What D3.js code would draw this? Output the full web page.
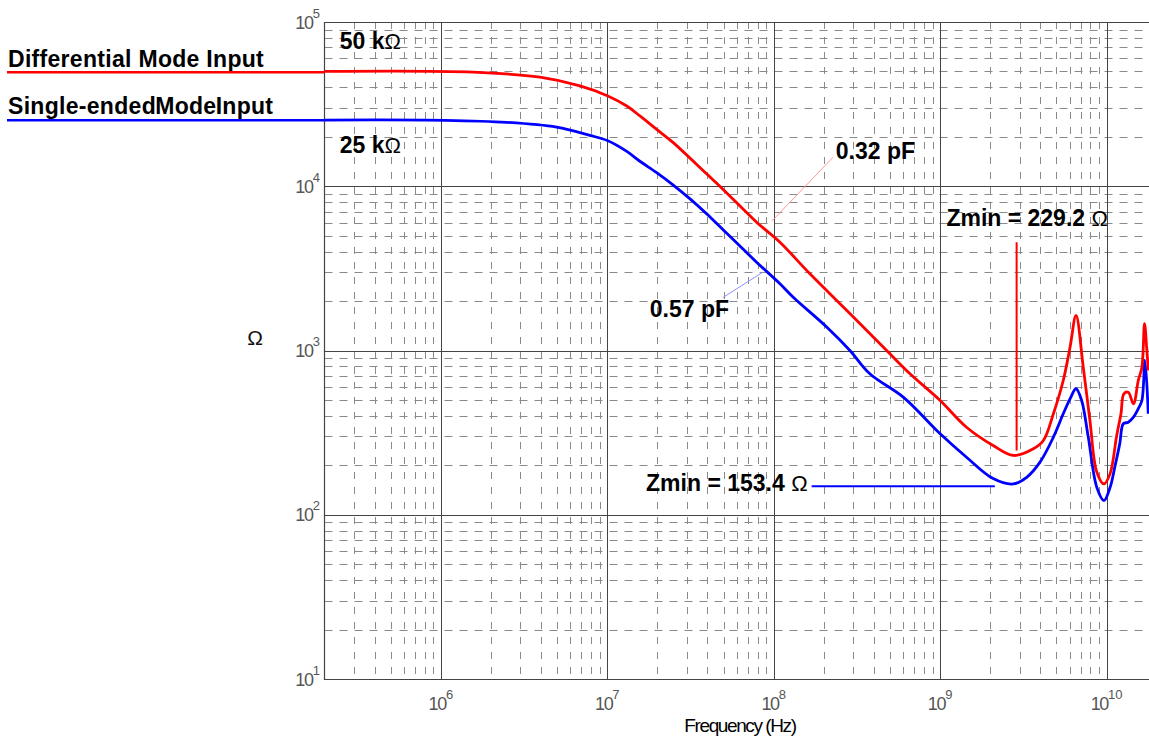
<!DOCTYPE html>
<html>
<head>
<meta charset="utf-8">
<script src="https://cdn.jsdelivr.net/npm/d3@7"></script>
<style>
  html, body { margin: 0; padding: 0; background: #fff; }
  svg { display: block; }
</style>
</head>
<body>
<div id="chart"></div>
<script>
// ---- data ----
const freqDiff = [2e5, 1.56e6, 3.94e6, 6.85e6, 1.0e7, 1.31e7, 1.57e7, 1.98e7, 2.48e7, 3.95e7, 4.95e7, 7.89e7, 1.09e8, 1.65e8, 3.01e8, 4.77e8, 6.59e8, 1.0e9, 1.44e9, 2.08e9, 2.75e9, 3.63e9, 4.17e9, 4.79e9, 5.49e9, 6.03e9, 6.55e9, 7.24e9, 7.94e9, 8.73e9, 9.64e9, 1.05e10, 1.15e10, 1.22e10, 1.27e10, 1.35e10, 1.45e10, 1.55e10, 1.63e10, 1.69e10, 1.74e10, 1.78e10];
const zDiff    = [50000, 49500, 46100, 40800, 35600, 30800, 26800, 22200, 18500, 11900, 9600, 6040, 4560, 2930, 1600, 1000, 721, 496, 341, 264, 229.6, 252, 283, 412, 657, 1047, 1633, 791, 375, 182, 154, 178, 304, 412, 545, 557, 474, 657, 791, 1455, 1047, 756];

const freqSingle = [2e5, 1.06e6, 2.48e6, 4.96e6, 7.86e6, 1.0e7, 1.31e7, 1.57e7, 1.98e7, 2.48e7, 3.13e7, 3.95e7, 4.95e7, 7.89e7, 1.09e8, 1.31e8, 2.08e8, 2.87e8, 3.78e8, 6.0e8, 1.0e9, 1.44e9, 2.08e9, 2.75e9, 3.31e9, 3.98e9, 4.79e9, 5.49e9, 6.03e9, 6.55e9, 7.08e9, 7.76e9, 8.73e9, 9.64e9, 1.05e10, 1.12e10, 1.20e10, 1.26e10, 1.35e10, 1.45e10, 1.55e10, 1.63e10, 1.70e10, 1.78e10];
const zSingle    = [25300, 25200, 24500, 22900, 20400, 19000, 16300, 14200, 12100, 10200, 8400, 6800, 5450, 3450, 2550, 2110, 1390, 1000, 721, 520, 311, 224, 166, 154, 169, 209, 297, 412, 508, 585, 496, 297, 147, 122, 147, 195, 271, 358, 366, 393, 442, 496, 869, 412];

const xTickExponents = [6, 7, 8, 9, 10];
const yTickExponents = [1, 2, 3, 4, 5];
const seriesNames = ["Differential Mode Input", "Single-ended Mode Input"];
const xLabel = "Frequency (Hz)";
const yLabel = "\u03A9";

// annotation texts anchored in data space
const annotationTexts = [
  { main: "50 k", omega: "\u03A9", f: 2.47e5, z: 68900 },
  { main: "25 k", omega: "\u03A9", f: 2.47e5, z: 15900 },
  { main: "0.32 pF", omega: "", f: 2.36e8, z: 14700 },
  { main: "0.57 pF", omega: "", f: 1.80e7, z: 1610 },
  { main: "Zmin = 229.2 ", omega: "\u03A9", f: 1.09e9, z: 5690 },
  { main: "Zmin = 153.4 ", omega: "\u03A9", f: 1.71e7, z: 139 }
];
// annotation leader lines [f1, z1, f2, z2]
const leaderDiffCap   = [9.72e7, 6120, 2.27e8, 15000];
const leaderSingleCap = [4.95e7, 2100, 8.61e7, 3000];
const zminDiffLine    = [2.88e9, 4560, 2.88e9, 246];
const zminSingleLine  = [1.69e8, 149, 2.13e9, 149];

// ---- layout ----
const W = 1149, H = 744;
const plot = { left: 324.5, top: 22, bottom: 679, right: 1156.7 };

const svg = d3.select("#chart").append("svg")
  .attr("width", W).attr("height", H)
  .style("font-family", "Arial, 'Liberation Sans', Helvetica, sans-serif");

svg.append("rect").attr("width", W).attr("height", H).attr("fill", "#fff");

const x = d3.scaleLog().domain([2e5, 2e10]).range([plot.left, plot.right]);
const y = d3.scaleLog().domain([10, 1e5]).range([plot.bottom, plot.top]);

svg.append("defs").append("clipPath").attr("id", "clip")
  .append("rect").attr("x", plot.left).attr("y", plot.top)
  .attr("width", plot.right - plot.left).attr("height", plot.bottom - plot.top);

// ---- grid ----
const grid = svg.append("g");
const minorX = [], majorX = [];
for (let e = 5; e <= 10; e++) {
  for (let m = 1; m <= 9; m++) {
    const v = m * Math.pow(10, e);
    if (v < 2e5 || v > 2e10) continue;
    if (m === 1) majorX.push(v); else if (v > 2e5) minorX.push(v);
  }
}
const minorY = [], majorY = [];
for (let e = 1; e <= 4; e++) {
  for (let m = 2; m <= 9; m++) minorY.push(m * Math.pow(10, e));
}
yTickExponents.forEach(e => majorY.push(Math.pow(10, e)));

grid.selectAll(".mx").data(minorX).join("line")
  .attr("x1", d => Math.round(x(d)) + 0.5).attr("x2", d => Math.round(x(d)) + 0.5)
  .attr("y1", plot.top).attr("y2", plot.bottom)
  .attr("stroke", "#8a8a8a").attr("stroke-width", 1).attr("stroke-dasharray", "7,8");
grid.selectAll(".my").data(minorY).join("line")
  .attr("x1", plot.left).attr("x2", plot.right)
  .attr("y1", d => Math.round(y(d)) + 0.5).attr("y2", d => Math.round(y(d)) + 0.5)
  .attr("stroke", "#8a8a8a").attr("stroke-width", 1).attr("stroke-dasharray", "8,7");
grid.selectAll(".Mx").data(majorX).join("line")
  .attr("x1", d => Math.round(x(d)) + 0.5).attr("x2", d => Math.round(x(d)) + 0.5)
  .attr("y1", plot.top).attr("y2", plot.bottom)
  .attr("stroke", "#444").attr("stroke-width", 1);
grid.selectAll(".My").data(majorY).join("line")
  .attr("x1", plot.left).attr("x2", plot.right)
  .attr("y1", d => Math.round(y(d)) + 0.5).attr("y2", d => Math.round(y(d)) + 0.5)
  .attr("stroke", "#444").attr("stroke-width", 1);

// axes border (left, top, bottom)
svg.append("path")
  .attr("d", `M${plot.right},${plot.top + 0.5}H${plot.left}V${plot.bottom + 0.5}H${plot.right}`)
  .attr("fill", "none").attr("stroke", "#444").attr("stroke-width", 1.2);

// ---- tick labels ----
const xt = svg.append("g").attr("fill", "#555");
xTickExponents.forEach(e => {
  const t = xt.append("text").attr("x", x(Math.pow(10, e))).attr("y", 710)
    .attr("text-anchor", "middle").attr("font-size", 18).attr("letter-spacing", "-1.3px");
  t.append("tspan").text("10");
  t.append("tspan").attr("dy", -11).attr("font-size", 13).attr("letter-spacing", "0px").text(e);
});
const yt = svg.append("g").attr("fill", "#555");
yTickExponents.forEach(e => {
  const t = yt.append("text").attr("x", 320).attr("y", y(Math.pow(10, e)) + 6.5)
    .attr("text-anchor", "end").attr("font-size", 18).attr("letter-spacing", "-1.3px");
  t.append("tspan").text("10");
  t.append("tspan").attr("dy", -11).attr("font-size", 13).attr("letter-spacing", "0px").text(e);
});

svg.append("text").attr("x", 740).attr("y", 732).attr("text-anchor", "middle")
  .attr("font-size", 19).attr("letter-spacing", "-1.4px").attr("fill", "#000").text(xLabel);
svg.append("text").attr("x", 255).attr("y", 345).attr("text-anchor", "middle")
  .attr("font-size", 21).attr("fill", "#111").text(yLabel);

// ---- curves ----
const line = d3.line().x(d => x(d[0])).y(d => y(d[1])).curve(d3.curveCatmullRom.alpha(0.5));
const curves = svg.append("g").attr("clip-path", "url(#clip)");
curves.append("path").datum(freqSingle.map((f, i) => [f, zSingle[i]]))
  .attr("d", line).attr("fill", "none").attr("stroke", "#0000ff")
  .attr("stroke-width", 2.8).attr("stroke-linejoin", "round");
curves.append("path").datum(freqDiff.map((f, i) => [f, zDiff[i]]))
  .attr("d", line).attr("fill", "none").attr("stroke", "#ff0000")
  .attr("stroke-width", 2.8).attr("stroke-linejoin", "round");

// ---- legend (left of plot) ----
const legendColors = ["#ff0000", "#0000ff"];
const legendBase = [67, 113.5];
const legendLineY = [72.3, 120.3];
seriesNames.forEach((name, i) => {
  svg.append("text").attr("x", 8).attr("y", legendBase[i])
    .attr("font-size", 23).attr("font-weight", "bold").attr("letter-spacing", "0.3px")
    .attr("word-spacing", i === 1 ? "-7.5px" : "0px")
    .attr("fill", "#000").text(name);
  svg.append("line").attr("x1", 7).attr("x2", plot.left)
    .attr("y1", legendLineY[i]).attr("y2", legendLineY[i])
    .attr("stroke", legendColors[i]).attr("stroke-width", 2.5);
});

// ---- annotations ----
const lead = (arr, color, w) => svg.append("line")
  .attr("x1", x(arr[0])).attr("y1", y(arr[1])).attr("x2", x(arr[2])).attr("y2", y(arr[3]))
  .attr("stroke", color).attr("stroke-width", w);
lead(leaderDiffCap, "#ff9a9a", 1);
lead(leaderSingleCap, "#8f8fff", 1);
lead(zminDiffLine, "#ff0000", 2);
lead(zminSingleLine, "#0000ff", 2);

annotationTexts.forEach(a => {
  const t = svg.append("text").attr("x", x(a.f)).attr("y", y(a.z))
    .attr("font-size", 23).attr("font-weight", "bold")
    .attr("fill", "#000");
  t.append("tspan").text(a.main);
  if (a.omega) t.append("tspan").attr("font-weight", "normal").attr("font-size", 22).text(a.omega);
});
</script>
</body>
</html>
